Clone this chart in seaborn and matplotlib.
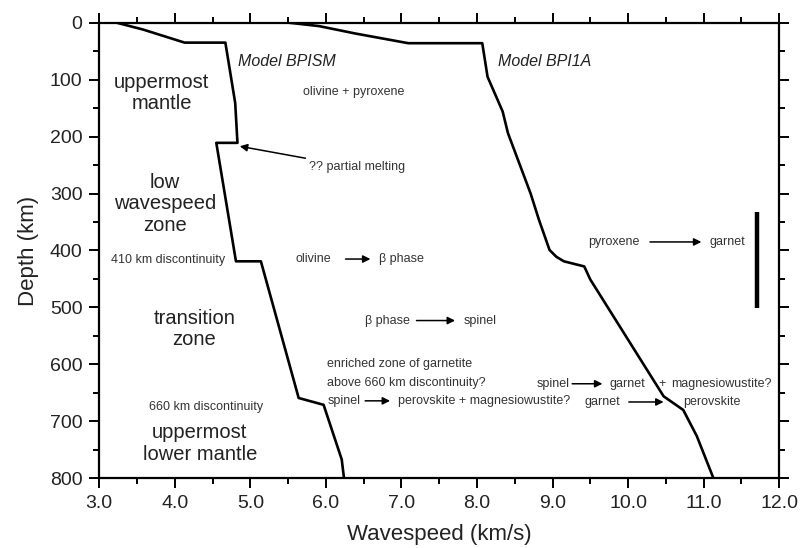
import matplotlib
matplotlib.use("Agg")
import matplotlib.pyplot as plt
from matplotlib.ticker import MultipleLocator, FormatStrFormatter
import seaborn as sns
import pandas as pd

# ---- data ----
bpism_speed = [3.23, 3.58, 4.13, 4.67, 4.80, 4.83, 4.55, 4.81, 5.14, 5.64, 5.97, 6.21, 6.24]
bpism_depth = [0, 12, 35, 35, 141, 211, 211, 419, 419, 659, 671, 767, 800]

bpi1a_speed = [5.51, 5.91, 6.39, 7.09, 8.07, 8.14, 8.34, 8.41, 8.71, 8.82, 8.96, 9.05, 9.15, 9.42, 9.50, 10.47, 10.73, 10.91, 11.13]
bpi1a_depth = [0, 6, 19, 36, 36, 95, 156, 194, 300, 346, 399, 411, 419, 428, 451, 656, 680, 726, 800]

x_ticks = [3.0, 4.0, 5.0, 6.0, 7.0, 8.0, 9.0, 10.0, 11.0, 12.0]
y_ticks = [0, 100, 200, 300, 400, 500, 600, 700, 800]

sns.set_style("ticks")
plt.rcParams["font.family"] = ["Liberation Sans", "DejaVu Sans"]

fig = plt.figure(figsize=(8.0, 5.48), dpi=100)
ax = fig.add_axes([0.124, 0.1272, 0.850, 0.8314])

df1 = pd.DataFrame({"speed": bpism_speed, "depth": bpism_depth})
df2 = pd.DataFrame({"speed": bpi1a_speed, "depth": bpi1a_depth})
sns.lineplot(data=df1, x="speed", y="depth", sort=False, estimator=None,
             color="black", lw=1.9, ax=ax)
sns.lineplot(data=df2, x="speed", y="depth", sort=False, estimator=None,
             color="black", lw=1.9, ax=ax)

ax.set_xlim(3.0, 12.0)
ax.set_ylim(800, 0)
ax.set_xticks(x_ticks)
ax.set_yticks(y_ticks)
ax.xaxis.set_major_formatter(FormatStrFormatter("%.1f"))
ax.xaxis.set_minor_locator(MultipleLocator(0.5))
ax.yaxis.set_minor_locator(MultipleLocator(50))
ax.tick_params(which="both", direction="out", top=True, right=True,
               width=1.4, colors="black", labelcolor="#222222")
ax.tick_params(which="major", length=7, labelsize=14, pad=5)
ax.tick_params(which="minor", length=4)
ax.tick_params(axis="x", which="major", labeltop=False)
for s in ax.spines.values():
    s.set_visible(True)
    s.set_linewidth(1.6)
    s.set_color("black")

ax.set_xlabel("Wavespeed (km/s)", fontsize=16, color="#222222", labelpad=9)
ax.set_ylabel("Depth (km)", fontsize=16, color="#222222", labelpad=8)

tc = "#222222"
sc = "#333333"
big = 14.5
small = 9

# region labels
ax.text(3.83, 123, "uppermost\nmantle", fontsize=big, ha="center", va="center", color=tc, linespacing=1.15)
ax.text(3.87, 318, "low\nwavespeed\nzone", fontsize=big, ha="center", va="center", color=tc, linespacing=1.15)
ax.text(3.91, 417, "410 km discontinuity", fontsize=small, ha="center", va="center", color=sc)
ax.text(4.26, 538, "transition\nzone", fontsize=big, ha="center", va="center", color=tc, linespacing=1.15)
ax.text(4.41, 674, "660 km discontinuity", fontsize=small, ha="center", va="center", color=sc)
ax.text(4.33, 739, "uppermost\nlower mantle", fontsize=big, ha="center", va="center", color=tc, linespacing=1.15)

# model names
ax.text(5.49, 68, "Model BPISM", fontsize=11.5, style="italic", ha="center", va="center", color=tc)
ax.text(8.89, 68, "Model BPI1A", fontsize=11.5, style="italic", ha="center", va="center", color=tc)

# phase annotations
ax.text(6.37, 121, "olivine + pyroxene", fontsize=small, ha="center", va="center", color=sc)
ax.text(5.78, 253, "?? partial melting", fontsize=small, ha="left", va="center", color=sc)

ap = dict(arrowstyle="-|>", color="black", lw=1.1, mutation_scale=11, shrinkA=0, shrinkB=0)
ax.annotate("", xy=(4.86, 217), xytext=(5.73, 238), arrowprops=ap)

ax.text(5.84, 415, "olivine", fontsize=small, ha="center", va="center", color=sc)
ax.annotate("", xy=(6.59, 415), xytext=(6.26, 415), arrowprops=ap)
ax.text(7.0, 415, "β phase", fontsize=small, ha="center", va="center", color=sc)

ax.text(6.81, 523, "β phase", fontsize=small, ha="center", va="center", color=sc)
ax.annotate("", xy=(7.71, 523), xytext=(7.20, 523), arrowprops=ap)
ax.text(8.04, 523, "spinel", fontsize=small, ha="center", va="center", color=sc)

ax.text(9.81, 385, "pyroxene", fontsize=small, ha="center", va="center", color=sc)
ax.annotate("", xy=(10.97, 385), xytext=(10.29, 385), arrowprops=ap)
ax.text(11.32, 385, "garnet", fontsize=small, ha="center", va="center", color=sc)
ax.plot([11.70, 11.70], [332, 501], color="black", lw=3.2, solid_capstyle="butt")

ax.text(6.02, 600, "enriched zone of garnetite", fontsize=small, ha="left", va="center", color=sc)
ax.text(6.02, 633, "above 660 km discontinuity?", fontsize=small, ha="left", va="center", color=sc)
ax.text(6.02, 664, "spinel", fontsize=small, ha="left", va="center", color=sc)
ax.annotate("", xy=(6.85, 664), xytext=(6.52, 664), arrowprops=ap)
ax.text(6.96, 664, "perovskite + magnesiowustite?", fontsize=small, ha="left", va="center", color=sc)

ax.text(9.22, 634, "spinel", fontsize=small, ha="right", va="center", color=sc)
ax.annotate("", xy=(9.66, 634), xytext=(9.26, 634), arrowprops=ap)
ax.text(9.99, 634, "garnet", fontsize=small, ha="center", va="center", color=sc)
ax.text(10.45, 634, "+", fontsize=small, ha="center", va="center", color=sc)
ax.text(11.24, 634, "magnesiowustite?", fontsize=small, ha="center", va="center", color=sc)

ax.text(9.66, 666, "garnet", fontsize=small, ha="center", va="center", color=sc)
ax.annotate("", xy=(10.47, 666), xytext=(10.01, 666), arrowprops=ap)
ax.text(11.11, 666, "perovskite", fontsize=small, ha="center", va="center", color=sc)

fig.savefig("out.png", dpi=100)
